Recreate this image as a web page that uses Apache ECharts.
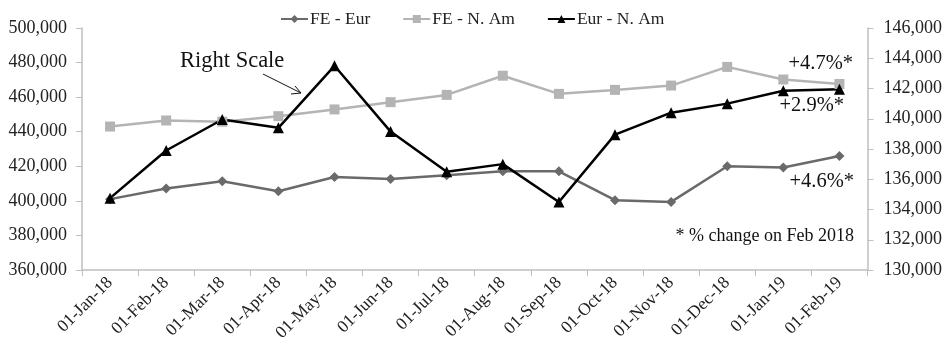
<!DOCTYPE html>
<html>
<head>
<meta charset="utf-8">
<script src="https://cdn.jsdelivr.net/npm/echarts@6/dist/echarts.min.js"></script>
<style>
  html, body { margin: 0; padding: 0; background: #fff; }
  #chart { width: 945px; height: 346px; }
</style>
</head>
<body>
<div id="chart"></div>
<script>
var months = ['01-Jan-18', '01-Feb-18', '01-Mar-18', '01-Apr-18', '01-May-18', '01-Jun-18', '01-Jul-18',
  '01-Aug-18', '01-Sep-18', '01-Oct-18', '01-Nov-18', '01-Dec-18', '01-Jan-19', '01-Feb-19']
// left scale
var feEur = [401000, 407100, 411300, 405600, 413800, 412700, 414800, 417100, 417100, 400400, 399400, 420000, 419300, 425900]
var feNAm = [443000, 446500, 445800, 449000, 452900, 457100, 461300, 472400, 461900, 464200, 466700, 477500, 470200, 467600]
// right scale
var eurNAm = [134750, 137900, 139950, 139400, 143500, 139150, 136500, 137000, 134500, 138950, 140400, 141000, 141850, 141950]

var chartDom = document.getElementById('chart')
var myChart = echarts.init(chartDom)
var font = 'Liberation Serif, Times New Roman, serif'
var axisGray = '#bfbfbf'

function fmt (v) {
  return v.toLocaleString('en-US')
}

var option = {
  animation: false,
  textStyle: { fontFamily: font },
  legend: {
    top: 5,
    left: 275,
    itemWidth: 27,
    itemHeight: 10,
    itemGap: 32,
    textStyle: { fontFamily: font, fontSize: 17.5, color: '#222', padding: [0, 0, 0, -3] },
    data: ['FE - Eur', 'FE - N. Am', 'Eur - N. Am']
  },
  grid: {
    top: 28,
    left: 82,
    right: 77,
    bottom: 76
  },
  xAxis: {
    type: 'category',
    data: months,
    boundaryGap: true,
    axisLine: { lineStyle: { color: axisGray, width: 1.5 } },
    axisTick: { show: true, length: 6, lineStyle: { color: axisGray } },
    axisLabel: {
      rotate: 45,
      interval: 0,
      margin: 10,
      fontFamily: font,
      fontSize: 17.5,
      color: '#222'
    }
  },
  yAxis: [
    {
      type: 'value',
      min: 360000,
      max: 500000,
      interval: 20000,
      splitLine: { show: false },
      axisLine: { show: true, lineStyle: { color: axisGray, width: 1.5 } },
      axisTick: { show: true, length: 6, lineStyle: { color: axisGray } },
      axisLabel: { fontFamily: font, fontSize: 18, color: '#222', margin: 15, formatter: fmt }
    },
    {
      type: 'value',
      min: 130000,
      max: 146000,
      interval: 2000,
      splitLine: { show: false },
      axisLine: { show: true, lineStyle: { color: axisGray, width: 1.5 } },
      axisTick: { show: true, length: 6, lineStyle: { color: axisGray } },
      axisLabel: { fontFamily: font, fontSize: 18, color: '#222', margin: 16, formatter: fmt }
    }
  ],
  series: [
    {
      name: 'FE - Eur',
      type: 'line',
      yAxisIndex: 0,
      data: feEur,
      symbol: 'diamond',
      symbolSize: 10,
      color: '#6a6a6a',
      lineStyle: { width: 2.5, color: '#6a6a6a' },
      itemStyle: { color: '#6a6a6a' }
    },
    {
      name: 'FE - N. Am',
      type: 'line',
      yAxisIndex: 0,
      data: feNAm,
      symbol: 'rect',
      symbolSize: 10,
      color: '#b4b4b4',
      lineStyle: { width: 2.5, color: '#b4b4b4' },
      itemStyle: { color: '#b4b4b4' }
    },
    {
      name: 'Eur - N. Am',
      type: 'line',
      yAxisIndex: 1,
      data: eurNAm,
      symbol: 'triangle',
      symbolSize: 11,
      color: '#000',
      lineStyle: { width: 2.5, color: '#000' },
      itemStyle: { color: '#000' }
    }
  ],
  graphic: [
    { type: 'text', left: 180, top: 50, style: { text: 'Right Scale', font: '22.5px ' + font, fill: '#111' } },
    { type: 'polyline', shape: { points: [[263, 74], [301, 93]] }, style: { stroke: '#111', lineWidth: 1 } },
    { type: 'polyline', shape: { points: [[291, 94], [301, 93], [295, 86]] }, style: { stroke: '#111', lineWidth: 1, fill: null } },
    { type: 'text', right: 92, top: 53, style: { text: '+4.7%*', font: '20.5px ' + font, fill: '#111' } },
    { type: 'text', right: 101, top: 95, style: { text: '+2.9%*', font: '20.5px ' + font, fill: '#111' } },
    { type: 'text', right: 91, top: 171, style: { text: '+4.6%*', font: '20.5px ' + font, fill: '#111' } },
    { type: 'text', right: 91, top: 227, style: { text: '* % change on Feb 2018', font: '18px ' + font, fill: '#111' } }
  ]
}

option && myChart.setOption(option)

window.addEventListener('resize', function () {
  myChart.resize()
})
</script>
</body>
</html>
